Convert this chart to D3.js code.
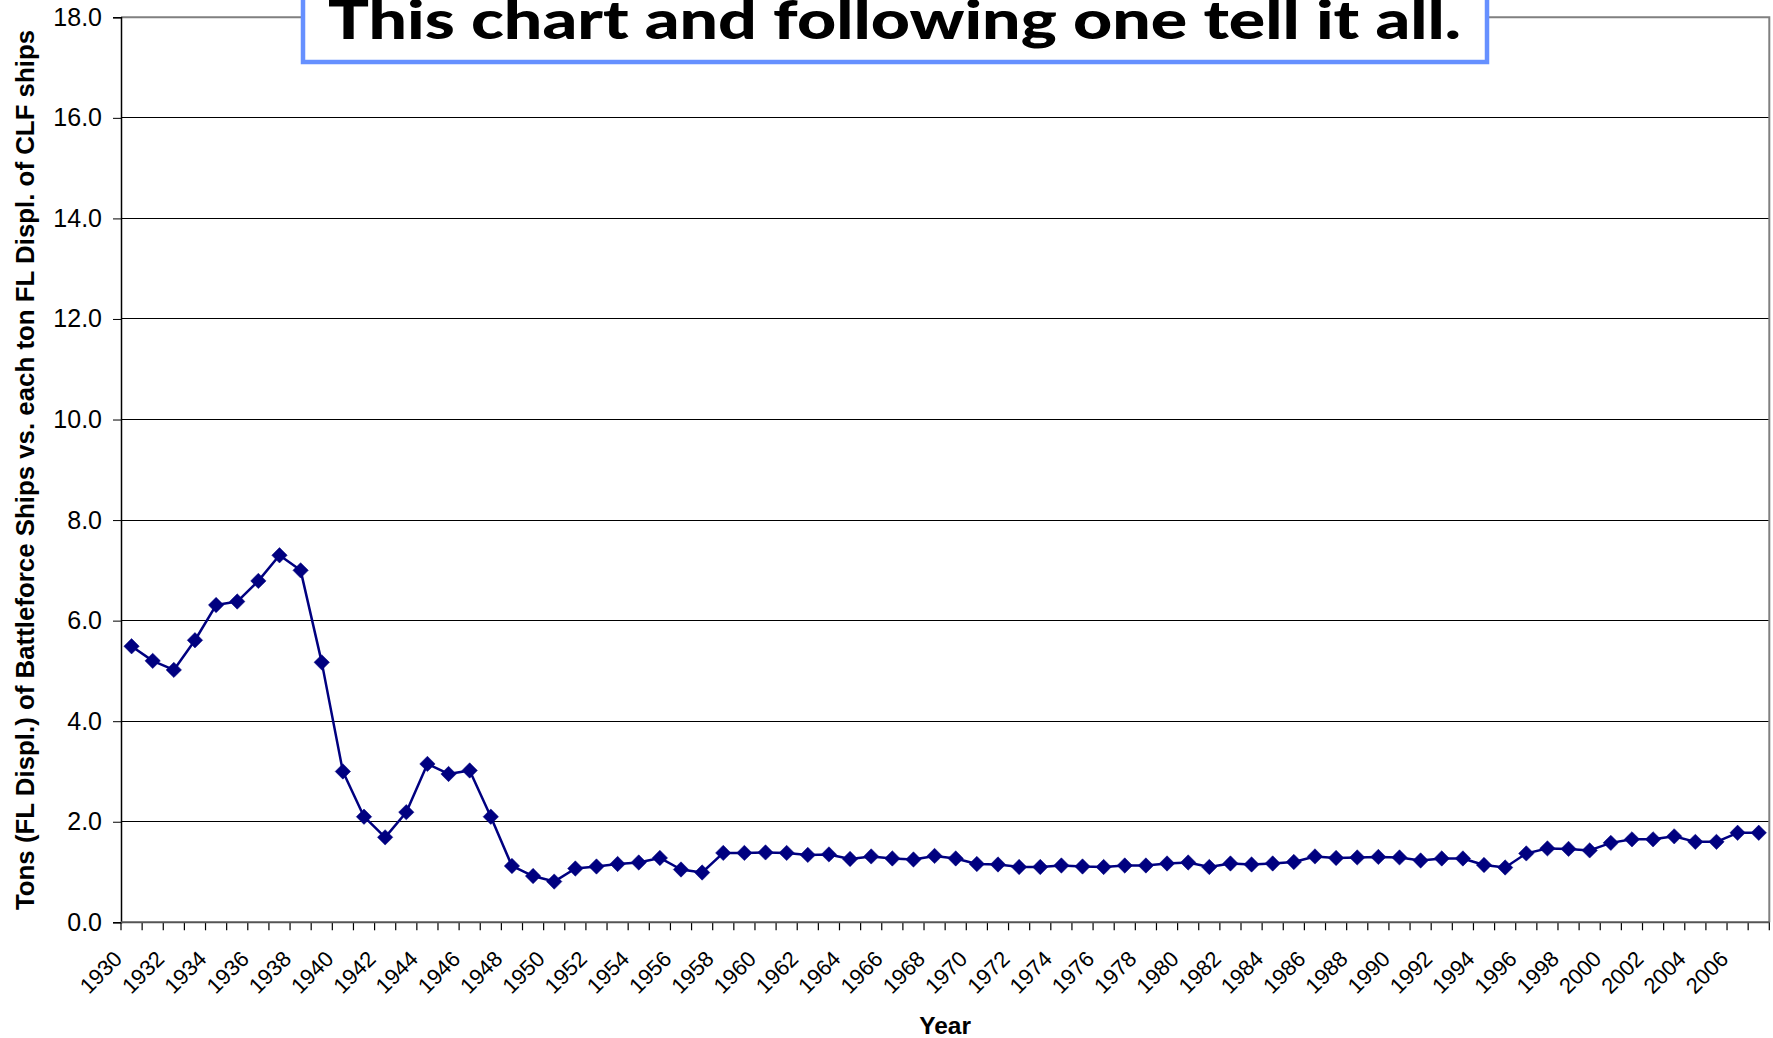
<!DOCTYPE html>
<html><head><meta charset="utf-8">
<script src="https://cdn.jsdelivr.net/npm/d3@7"></script>
<style>html,body{margin:0;padding:0;background:#fff;}svg{display:block;}</style>
</head><body>
<svg id="chart" width="1773" height="1038"></svg>
<script>
const years = [1930,1931,1932,1933,1934,1935,1936,1937,1938,1939,
1940,1941,1942,1943,1944,1945,1946,1947,1948,1949,
1950,1951,1952,1953,1954,1955,1956,1957,1958,1959,
1960,1961,1962,1963,1964,1965,1966,1967,1968,1969,
1970,1971,1972,1973,1974,1975,1976,1977,1978,1979,
1980,1981,1982,1983,1984,1985,1986,1987,1988,1989,
1990,1991,1992,1993,1994,1995,1996,1997,1998,1999,
2000,2001,2002,2003,2004,2005,2006,2007];
const ratio = [5.49,5.20,5.02,5.61,6.31,6.38,6.79,7.30,7.00,5.17,
3.00,2.10,1.69,2.19,3.15,2.95,3.02,2.10,1.12,0.92,
0.81,1.07,1.11,1.16,1.19,1.28,1.05,0.99,1.38,1.38,
1.39,1.38,1.34,1.35,1.26,1.31,1.27,1.25,1.32,1.27,
1.16,1.15,1.10,1.10,1.13,1.11,1.10,1.13,1.13,1.17,
1.19,1.10,1.17,1.15,1.17,1.20,1.31,1.28,1.29,1.30,
1.29,1.23,1.27,1.27,1.14,1.09,1.37,1.47,1.46,1.43,
1.58,1.65,1.65,1.71,1.60,1.60,1.78,1.78];
const yTicks = [0,2,4,6,8,10,12,14,16,18];
const xLabelYears = [1930,1932,1934,1936,1938,1940,1942,1944,1946,1948,1950,1952,1954,1956,1958,1960,1962,1964,1966,1968,1970,1972,1974,1976,1978,1980,1982,1984,1986,1988,1990,1992,1994,1996,1998,2000,2002,2004,2006];
const titleText = "This chart and following one tell it all.";
const yTitle = "Tons (FL Displ.) of Battleforce Ships vs. each ton FL Displ. of CLF ships";
const xTitle = "Year";

const L = 121, R = 1769.3, T = 17.3, B = 922.3;
const svg = d3.select("#chart");
const x = d3.scaleBand().domain(years).range([L, R]).paddingInner(0).paddingOuter(0);
const y = d3.scaleLinear().domain([0, 18]).range([B, T]);

// gridlines
svg.append("g").selectAll("line").data(yTicks.filter(d => d > 0 && d < 18)).join("line")
  .attr("x1", L).attr("x2", R).attr("y1", d => y(d)).attr("y2", d => y(d))
  .attr("stroke", "#000").attr("stroke-width", 1).attr("shape-rendering", "crispEdges");

// plot border (top, right)
svg.append("path")
  .attr("d", `M${L},${y(18)}H${R}V${B}`)
  .attr("fill", "none").attr("stroke", "#808080").attr("stroke-width", 2);

// y axis
const yAxis = d3.axisLeft(y).tickValues(yTicks).tickSize(8).tickPadding(11).tickFormat(d3.format(".1f"));
const gy = svg.append("g").attr("transform", `translate(${L},0)`).call(yAxis);
gy.select(".domain").attr("stroke", "#000").attr("stroke-width", 1.5);
gy.selectAll(".tick line").attr("stroke", "#000");
gy.selectAll(".tick text").attr("font-family", "Liberation Sans, Arial, sans-serif").attr("font-size", 25).attr("fill", "#000");

// x axis ticks at band boundaries
const bounds = years.map(d => x(d)).concat([R]);
svg.append("g").selectAll("line").data(bounds).join("line")
  .attr("x1", d => d).attr("x2", d => d).attr("y1", B).attr("y2", B + 8)
  .attr("stroke", "#000").attr("stroke-width", 1.2);
svg.append("line").attr("x1", L).attr("x2", R).attr("y1", B).attr("y2", B)
  .attr("stroke", "#555").attr("stroke-width", 2);

// x labels
svg.append("g").selectAll("text").data(xLabelYears).join("text")
  .attr("transform", d => `translate(${x(d) + 2.5},${B + 38}) rotate(-45)`)
  .attr("text-anchor", "end")
  .attr("font-family", "Liberation Sans, Arial, sans-serif").attr("font-size", 22).attr("fill", "#000")
  .text(d => d);

// line
const pts = years.map((yr, i) => ({yr, v: ratio[i]}));
const line = d3.line().x(d => x(d.yr) + x.bandwidth() / 2).y(d => y(d.v));
svg.append("path").datum(pts).attr("d", line)
  .attr("fill", "none").attr("stroke", "#000080").attr("stroke-width", 2.5).attr("stroke-linejoin", "round");

// markers
const diamond = d3.symbol().type(d3.symbolSquare).size(118);
svg.append("g").selectAll("path").data(pts).join("path")
  .attr("d", diamond)
  .attr("transform", d => `translate(${x(d.yr) + x.bandwidth() / 2},${y(d.v)}) rotate(45)`)
  .attr("fill", "#000080").attr("stroke", "#000080").attr("stroke-width", 0.5);

// axis titles
svg.append("text")
  .attr("transform", `translate(${34},${470}) rotate(-90)`)
  .attr("text-anchor", "middle")
  .attr("font-family", "Liberation Sans, Arial, sans-serif").attr("font-weight", "bold").attr("font-size", 25.85)
  .attr("fill", "#000").text(yTitle);
svg.append("text")
  .attr("x", (L + R) / 2).attr("y", 1034)
  .attr("text-anchor", "middle")
  .attr("font-family", "Liberation Sans, Arial, sans-serif").attr("font-weight", "bold").attr("font-size", 24.5)
  .attr("fill", "#000").text(xTitle);

// title box
svg.append("rect").attr("x", 303).attr("y", -30).attr("width", 1184).attr("height", 92)
  .attr("fill", "#fff").attr("stroke", "#6690FF").attr("stroke-width", 4.5);
svg.append("text")
  .attr("x", 894.5).attr("y", 38.5).attr("text-anchor", "middle")
  .attr("font-family", "Lato, sans-serif").attr("font-weight", "900").attr("font-size", 53)
  .attr("textLength", 1133).attr("lengthAdjust", "spacingAndGlyphs")
  .attr("fill", "#000").text(titleText);
</script>
</body></html>
